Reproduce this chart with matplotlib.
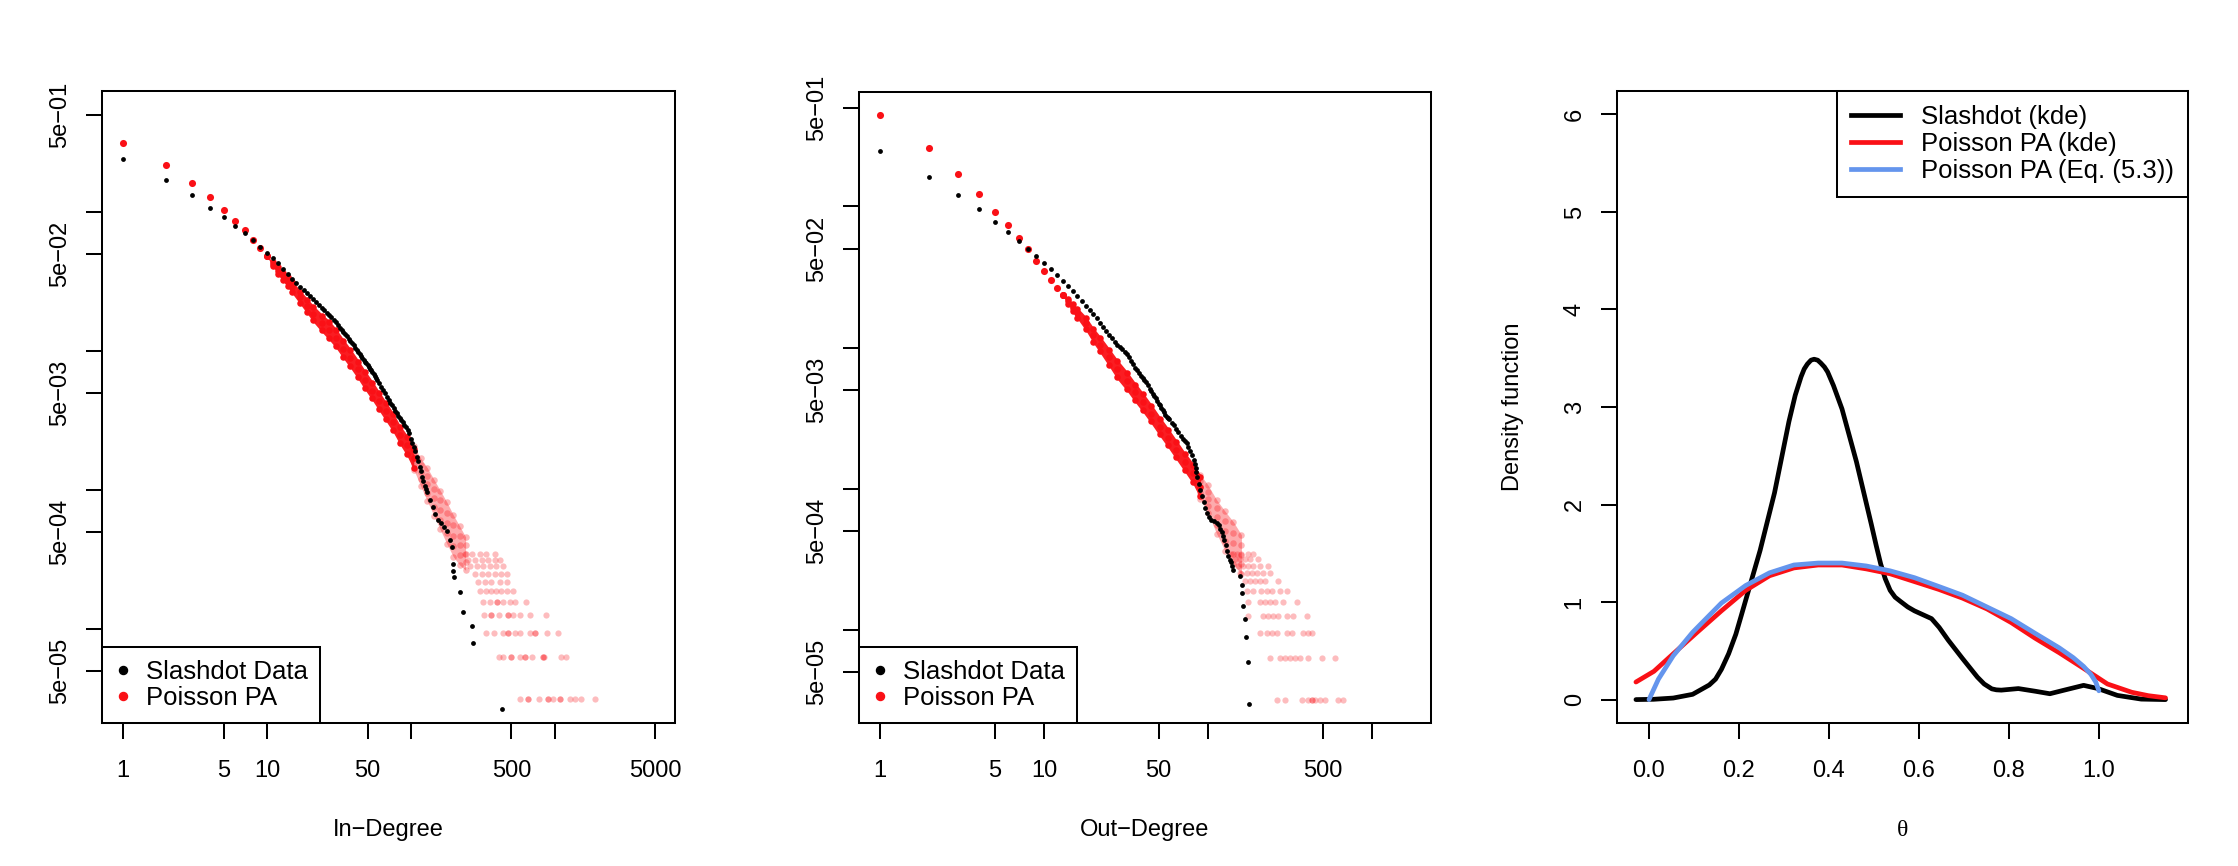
import numpy as np
import matplotlib.pyplot as plt
from matplotlib.lines import Line2D
from matplotlib.ticker import NullLocator

plt.rcParams['font.family'] = ['Liberation Sans', 'DejaVu Sans']
plt.rcParams['axes.linewidth'] = 1.45

MINUS = '\u2212'

# ---------------- In-degree distribution ----------------
in_black_deg = [1, 2, 3, 4, 5, 6, 7, 8, 9, 10, 11, 12, 13, 14, 15, 16, 17, 18, 19, 20,
                21, 22, 23, 24, 25, 26, 27, 28, 29, 30, 31, 32, 33, 34, 35, 36, 37, 38, 39,
                40, 41, 42, 43, 44, 45, 46, 47, 48, 49, 50, 51, 52, 53, 54, 55, 56, 57, 58,
                60, 62, 64, 66, 68, 70, 72, 74, 76, 78, 80, 82, 84, 86, 88, 90, 92, 95, 97,
                100, 102, 105, 107, 110, 112, 115, 117, 120, 122, 125, 127, 130, 136, 142,
                148, 155, 162, 170, 178, 186, 194, 196, 197, 199, 221, 231, 264, 271, 430]
in_black_freq = [0.241, 0.171, 0.133, 0.108, 0.093, 0.080, 0.0708, 0.0627, 0.0561, 0.0508,
                 0.0471, 0.0428, 0.0390, 0.0358, 0.0331, 0.0310, 0.0292, 0.0276, 0.0261, 0.0249,
                 0.0237, 0.0226, 0.0216, 0.0206, 0.0197, 0.0189, 0.0182, 0.0175, 0.0168, 0.0161,
                 0.0155, 0.0148, 0.0143, 0.0137, 0.0132, 0.0128, 0.0123, 0.0118, 0.0114,
                 0.0110, 0.0106, 0.0102, 0.00989, 0.00955, 0.00925, 0.00893, 0.00867, 0.00841,
                 0.00817, 0.00793, 0.00769, 0.00750, 0.00728, 0.00705, 0.00684, 0.00662,
                 0.00641, 0.00624, 0.00589, 0.00557, 0.00526, 0.00497, 0.00471, 0.00449,
                 0.00427, 0.00407, 0.00389, 0.00374, 0.00358, 0.00344, 0.00331, 0.00319,
                 0.00308, 0.00296, 0.00286, 0.00271, 0.00257, 0.00234, 0.0022, 0.00204,
                 0.0019, 0.00172, 0.00162, 0.00146, 0.00138, 0.00124, 0.00116, 0.00107,
                 0.00102, 0.00097, 0.00085, 0.00076, 0.00067, 0.00061, 0.00058, 0.00054,
                 0.00051, 0.00044, 0.00039, 0.000294, 0.000263, 0.000238, 0.000186,
                 0.000132, 0.000106, 0.000079, 0.0000265]

in_red_deg = [1, 2, 3, 4, 5, 6, 7, 8, 9, 10]
in_red_freq = [0.313, 0.219, 0.163, 0.128, 0.104, 0.087, 0.074, 0.0634, 0.0552, 0.0481]

# centre of the cloud of simulated networks and its half-width (decades)
in_band_deg = [10, 11, 12, 13, 14, 15, 17, 19, 21, 24, 27, 30, 34, 38, 43, 48, 54, 60, 67,
               75, 84, 94, 105, 117, 130, 145, 160, 178, 197, 218, 240]
in_band_mid = [0.0481, 0.0425, 0.0380, 0.0345, 0.0315, 0.0288, 0.0245, 0.0212, 0.0186,
               0.0160, 0.0142, 0.0125, 0.0104, 0.0089, 0.0074, 0.0062, 0.0052, 0.0044,
               0.0037, 0.0031, 0.0025, 0.0021, 0.0017, 0.00135, 0.0011, 0.00088, 0.00072,
               0.00058, 0.00047, 0.00040, 0.00035]
in_band_width = [0.0, 0.02, 0.03, 0.035, 0.04, 0.045, 0.05, 0.055, 0.06, 0.065, 0.07,
                 0.07, 0.07, 0.07, 0.07, 0.07, 0.07, 0.07, 0.07, 0.07, 0.07, 0.075,
                 0.085, 0.10, 0.12, 0.13, 0.14, 0.15, 0.15, 0.14, 0.12]
in_solid_until = 105

# tail of the simulations: degrees seen with 1, 2, 3, ... nodes
in_tail_deg = [
    [571, 646, 646, 778, 898, 898, 973, 1083, 1083, 1271, 1377, 1532, 1897],
    [410, 437, 494, 494, 571, 619, 619, 689, 822, 822, 839, 1112, 1192],
    [335, 377, 437, 474, 474, 528, 571, 670, 726, 726, 885, 1044],
    [323, 363, 363, 410, 474, 474, 513, 571, 670, 866],
    [315, 354, 397, 397, 437, 487, 528, 629],
    [301, 335, 363, 393, 426, 462, 513],
    [294, 327, 363, 415, 462],
    [278, 310, 344, 383, 426, 462],
    [257, 286, 318, 354, 393, 437],
    [250, 278, 310, 344, 383, 415],
    [237, 264, 301, 335, 383],
]

# ---------------- Out-degree distribution ----------------
out_black_deg = [1, 2, 3, 4, 5, 6, 7, 8, 9, 10, 11, 12, 13, 14, 15, 16, 17, 18, 19, 20,
                 21, 22, 23, 24, 25, 26, 27, 28, 29, 30, 31, 32, 33, 34, 35, 36, 37, 38, 39,
                 40, 41, 42, 43, 44, 45, 46, 47, 48, 49, 50, 51, 52, 53, 54, 55, 56, 57, 58,
                 60, 62, 64, 66, 68, 70, 72, 74, 76, 78, 80, 82, 83, 84, 85, 86, 88, 90, 92,
                 94, 96, 98, 101, 105, 109, 113, 116, 118, 121, 124, 126, 128, 131, 133, 136,
                 138, 140, 143, 157, 162, 162, 164, 168, 171, 176, 179]
out_black_freq = [0.249, 0.163, 0.121, 0.0966, 0.0782, 0.0656, 0.0573, 0.0497, 0.0442, 0.0400,
                  0.0359, 0.0327, 0.0295, 0.0272, 0.0253, 0.0233, 0.0215, 0.0198, 0.0185, 0.0172,
                  0.0161, 0.0150, 0.0140, 0.0131, 0.0123, 0.0116, 0.0110, 0.0105, 0.0101,
                  0.0097, 0.0093, 0.0090, 0.0085, 0.0080, 0.0076, 0.0072, 0.0069, 0.0066,
                  0.0063, 0.0061, 0.0059, 0.0057, 0.0054, 0.0051, 0.0049, 0.0047, 0.0045,
                  0.0044, 0.0042, 0.0040, 0.0039, 0.0037, 0.0036, 0.0035, 0.0033, 0.0032,
                  0.00315, 0.0031, 0.0029, 0.0028, 0.00265, 0.0025, 0.00237, 0.00225, 0.00217,
                  0.0021, 0.00197, 0.00186, 0.00173, 0.0016, 0.0015, 0.0014, 0.0013, 0.0012,
                  0.00108, 0.00097, 0.00088, 0.0008, 0.00073, 0.00067, 0.00063, 0.0006,
                  0.00059, 0.00057, 0.00055, 0.00052, 0.00049, 0.00046, 0.00043, 0.0004,
                  0.00036, 0.00033, 0.00031, 0.0003, 0.00028, 0.000265, 0.000238, 0.000207,
                  0.000181, 0.000148, 0.000118, 0.000089, 0.000059, 0.0000296]

out_red_deg = [1, 2, 3, 4, 5, 6, 7, 8, 9, 10, 11, 12, 13]
out_red_freq = [0.446, 0.259, 0.170, 0.123, 0.092, 0.074, 0.0601, 0.0497, 0.0411, 0.0351,
                0.0301, 0.0263, 0.0236]

out_band_deg = [13, 14, 15, 16, 18, 20, 22, 25, 28, 32, 36, 40, 45, 51, 57, 64, 72, 81, 90,
                100, 113, 127, 143, 160]
out_band_mid = [0.0236, 0.0212, 0.0192, 0.0175, 0.0148, 0.0122, 0.0105, 0.0085, 0.0070,
                0.0058, 0.0048, 0.0041, 0.0034, 0.00275, 0.0023, 0.00189, 0.00155, 0.00128,
                0.00103, 0.00084, 0.00063, 0.0005, 0.00041, 0.00034]
out_band_width = [0.0, 0.02, 0.03, 0.04, 0.05, 0.055, 0.06, 0.065, 0.07, 0.07, 0.07,
                  0.07, 0.07, 0.07, 0.07, 0.07, 0.07, 0.075, 0.085, 0.10, 0.12, 0.14,
                  0.15, 0.14]
out_solid_until = 90

out_tail_deg = [
    [262, 295, 373, 409, 429, 429, 449, 482, 517, 623, 668],
    [239, 275, 295, 316, 339, 364, 409, 493, 595],
    [207, 228, 245, 262, 302, 324, 381, 409, 429],
    [176, 217, 233, 250, 268, 302, 331, 400],
    [176, 207, 223, 239, 256, 288, 347],
    [172, 189, 212, 228, 245, 275, 302],
    [168, 180, 194, 207, 223, 268],
    [157, 172, 185, 198, 217, 239],
    [153, 164, 176, 189, 207, 233],
    [146, 157, 168, 180, 203],
    [139, 150, 160, 176, 189],
]

n_sim_nodes = 31850

# ---------------- theta densities ----------------
slashdot_theta = [-0.029, 0.01, 0.054, 0.097, 0.134, 0.148, 0.161, 0.177, 0.193, 0.205, 0.220,
                  0.247, 0.279, 0.311, 0.325, 0.338, 0.345, 0.352, 0.360, 0.367, 0.375, 0.382,
                  0.390, 0.397, 0.410, 0.429, 0.461, 0.494, 0.505, 0.515, 0.525, 0.536, 0.547,
                  0.558, 0.575, 0.590, 0.628, 0.645, 0.665, 0.697, 0.730, 0.745, 0.762, 0.772,
                  0.783, 0.821, 0.858, 0.891, 0.923, 0.966, 0.998, 1.041, 1.094, 1.148]
slashdot_dens = [0.0, 0.003, 0.016, 0.054, 0.15, 0.21, 0.31, 0.47, 0.67, 0.86, 1.10,
                 1.53, 2.12, 2.85, 3.12, 3.31, 3.39, 3.44, 3.48, 3.49, 3.48, 3.45,
                 3.41, 3.36, 3.22, 2.98, 2.44, 1.80, 1.58, 1.39, 1.24, 1.12, 1.05,
                 1.01, 0.95, 0.91, 0.83, 0.74, 0.61, 0.42, 0.23, 0.16, 0.11, 0.10,
                 0.097, 0.113, 0.086, 0.06, 0.097, 0.146, 0.113, 0.043, 0.005, 0.0]

pa_kde_theta = [-0.029, 0.011, 0.054, 0.107, 0.161, 0.215, 0.268, 0.322, 0.376, 0.429, 0.483,
                0.536, 0.590, 0.644, 0.697, 0.751, 0.805, 0.858, 0.912, 0.966, 1.019, 1.073,
                1.11, 1.148]
pa_kde_dens = [0.18, 0.29, 0.47, 0.69, 0.91, 1.12, 1.27, 1.35, 1.38, 1.38, 1.34, 1.29, 1.21,
               1.13, 1.04, 0.93, 0.79, 0.63, 0.48, 0.32, 0.16, 0.075, 0.04, 0.018]

pa_eq_theta = [0.0, 0.021, 0.054, 0.097, 0.161, 0.215, 0.268, 0.322, 0.376, 0.429, 0.483,
               0.536, 0.590, 0.644, 0.697, 0.751, 0.805, 0.858, 0.912, 0.943, 0.966, 0.982,
               0.993, 1.0]
pa_eq_dens = [0.0, 0.21, 0.45, 0.69, 0.99, 1.17, 1.30, 1.38, 1.40, 1.40, 1.37, 1.32, 1.25,
              1.16, 1.07, 0.95, 0.83, 0.68, 0.53, 0.43, 0.34, 0.26, 0.18, 0.09]

log_yticks = [5e-1, 1e-1, 5e-2, 1e-2, 5e-3, 1e-3, 5e-4, 1e-4, 5e-5]
log_ylabels = ['5e' + MINUS + '01', '', '5e' + MINUS + '02', '', '5e' + MINUS + '03', '',
               '5e' + MINUS + '04', '', '5e' + MINUS + '05']

RED = '#fa1016'
BLUE = '#6495ed'
TICK_LEN = 11.5
TICK_W = 1.45
FS = 17
LEG_FS = 18.5
LW = 3.4


def style_axes(ax):
    for sp in ax.spines.values():
        sp.set_linewidth(1.45)
    ax.tick_params(direction='out', length=TICK_LEN, width=TICK_W, labelsize=FS,
                   top=False, right=False)
    ax.tick_params(axis='x', pad=15)
    ax.tick_params(axis='y', pad=11)


def degree_panel(ax, black_deg, black_freq, red_deg, red_freq, band_deg, band_mid,
                 band_width, solid_until, tail_deg, xlim, ylim, xticks, xlabels, xlabel):
    band_deg = np.asarray(band_deg, dtype=float)
    mid = np.asarray(band_mid)
    w = np.asarray(band_width)
    solid = band_deg <= solid_until
    diffuse = band_deg >= solid_until

    ax.fill_between(band_deg[solid], mid[solid] / 10 ** w[solid], mid[solid] * 10 ** w[solid],
                    color=RED, alpha=0.95, lw=0)
    ax.fill_between(band_deg[diffuse], mid[diffuse] / 10 ** w[diffuse],
                    mid[diffuse] * 10 ** w[diffuse], color=RED, alpha=0.35, lw=0)
    for k in (-1.0, -0.5, 0.0, 0.5, 1.0):
        ax.scatter(band_deg[diffuse], mid[diffuse] * 10 ** (k * w[diffuse]), s=22, color=RED,
                   alpha=0.3, linewidths=0)
    for k in (-0.8, 0.0, 0.8):
        ax.scatter(band_deg[solid], mid[solid] * 10 ** (k * w[solid]), s=22, color=RED,
                   linewidths=0)
    ax.scatter(red_deg, red_freq, s=26, color=RED, linewidths=0)

    for count, degs in enumerate(tail_deg, start=1):
        ax.scatter(degs, [count / n_sim_nodes] * len(degs), s=20, color=RED, alpha=0.28,
                   linewidths=0)

    ax.scatter(black_deg, black_freq, s=12, color='black', linewidths=0, zorder=3)

    ax.set_xscale('log')
    ax.set_yscale('log')
    ax.set_xlim(*xlim)
    ax.set_ylim(*ylim)
    ax.set_xticks(xticks)
    ax.set_xticklabels(xlabels)
    ax.set_yticks(log_yticks)
    ax.set_yticklabels(log_ylabels, rotation=90, va='center')
    ax.xaxis.set_minor_locator(NullLocator())
    ax.yaxis.set_minor_locator(NullLocator())
    style_axes(ax)

    ax.set_xlabel(xlabel, fontsize=FS)
    ax.xaxis.set_label_coords(0.5, -107 / 632)
    ax.xaxis.label.set_va('center')

    handles = [Line2D([], [], marker='o', ls='none', color='black', ms=5.8),
               Line2D([], [], marker='o', ls='none', color=RED, ms=5.8)]
    leg = ax.legend(handles, ['Slashdot Data', 'Poisson PA'], loc='lower left',
                    bbox_to_anchor=(0, 0), borderaxespad=0, fancybox=False,
                    edgecolor='black', framealpha=1, fontsize=LEG_FS, handlelength=0.6,
                    handletextpad=0.6, borderpad=0.5, labelspacing=0.1)
    leg.get_frame().set_linewidth(1.45)


fig = plt.figure(figsize=(22.38, 8.66), dpi=100)
W, H = 2238, 866

ax1 = fig.add_axes([102 / W, (H - 723) / H, 573 / W, 632 / H])
degree_panel(ax1, in_black_deg, in_black_freq, in_red_deg, in_red_freq, in_band_deg,
             in_band_mid, in_band_width, in_solid_until, in_tail_deg,
             (10 ** -0.146, 10 ** 3.835), (10 ** -4.675, 10 ** -0.128),
             [1, 5, 10, 50, 100, 500, 1000, 5000],
             ['1', '5', '10', '50', '', '500', '', '5000'], 'In' + MINUS + 'Degree')

ax2 = fig.add_axes([859 / W, (H - 723) / H, 572 / W, 631 / H])
degree_panel(ax2, out_black_deg, out_black_freq, out_red_deg, out_red_freq, out_band_deg,
             out_band_mid, out_band_width, out_solid_until, out_tail_deg,
             (10 ** -0.128, 10 ** 3.36), (10 ** -4.663, 10 ** -0.188),
             [1, 5, 10, 50, 100, 500, 1000],
             ['1', '5', '10', '50', '', '500', ''], 'Out' + MINUS + 'Degree')

ax3 = fig.add_axes([1617 / W, (H - 723) / H, 571 / W, 632 / H])
for th, dens, col in ((slashdot_theta, slashdot_dens, 'black'),
                      (pa_kde_theta, pa_kde_dens, RED),
                      (pa_eq_theta, pa_eq_dens, BLUE)):
    ax3.plot(th, dens, color=col, lw=LW, solid_capstyle='round', solid_joinstyle='round')
ax3.set_xlim(-0.0711, 1.198)
ax3.set_ylim(-0.24, 6.24)
ax3.set_xticks([0.0, 0.2, 0.4, 0.6, 0.8, 1.0])
ax3.set_xticklabels(['0.0', '0.2', '0.4', '0.6', '0.8', '1.0'])
ax3.set_yticks([0, 1, 2, 3, 4, 5, 6])
ax3.set_yticklabels(['0', '1', '2', '3', '4', '5', '6'], rotation=90, va='center')
style_axes(ax3)
ax3.set_xlabel('\u03b8', fontsize=FS, family=['Liberation Serif', 'DejaVu Serif'])
ax3.xaxis.set_label_coords(0.5, -107 / 632)
ax3.xaxis.label.set_va('center')
ax3.set_ylabel('Density function', fontsize=FS)
ax3.yaxis.set_label_coords(-104 / 571, 0.5)
ax3.yaxis.label.set_va('center')

handles3 = [Line2D([], [], color='black', lw=LW),
            Line2D([], [], color=RED, lw=LW),
            Line2D([], [], color=BLUE, lw=LW)]
leg3 = ax3.legend(handles3, ['Slashdot (kde)', 'Poisson PA (kde)', 'Poisson PA (Eq. (5.3))'],
                  loc='upper right', borderaxespad=0, fancybox=False, edgecolor='black',
                  framealpha=1, fontsize=LEG_FS, handlelength=1.9, handletextpad=0.8,
                  borderpad=0.55, labelspacing=0.12)
leg3.get_frame().set_linewidth(1.45)

fig.savefig('out.png', dpi=100)
